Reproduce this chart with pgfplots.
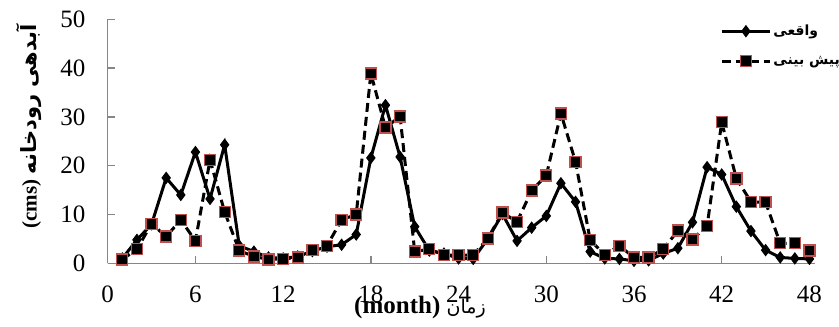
\documentclass[border=0pt]{standalone}
\usepackage{fontspec}
\setmainfont{Liberation Serif}
\newfontfamily\arabicfont[Script=Arabic]{DejaVu Sans}
\TeXXeTstate=1
\usepackage{pgfplots}
\pgfplotsset{compat=1.18}
\definecolor{axgray}{RGB}{134,134,134}
\definecolor{sqred}{RGB}{192,80,77}

\pgfplotstableread{
m act pre
1 1.0 0.8
2 4.8 2.9
3 8.0 8.1
4 17.5 5.5
5 14.0 8.9
6 22.8 4.6
7 13.2 21.2
8 24.3 10.5
9 3.6 2.6
10 2.4 1.4
11 1.2 0.8
12 1.0 0.9
13 1.4 1.2
14 2.5 2.7
15 3.4 3.6
16 3.8 8.9
17 5.9 10.0
18 21.6 38.9
19 32.4 27.8
20 21.8 30.1
21 7.5 2.4
22 2.6 2.9
23 2.0 1.7
24 1.0 1.7
25 0.9 1.7
26 5.0 5.1
27 10.1 10.4
28 4.6 8.5
29 7.3 14.9
30 9.7 18.0
31 16.4 30.7
32 12.6 20.8
33 2.4 4.8
34 1.0 1.7
35 0.9 3.6
36 0.5 1.2
37 0.6 1.2
38 2.0 2.9
39 3.1 6.7
40 8.4 4.9
41 19.7 7.7
42 18.2 28.9
43 11.6 17.4
44 6.6 12.6
45 2.7 12.5
46 1.2 4.1
47 1.0 4.1
48 0.9 2.6
}\datatable

\begin{document}
\begin{tikzpicture}
\begin{axis}[
  scale only axis, width=707.3bp, height=244bp,
  xmin=0, xmax=48.38, ymin=0, ymax=50,
  axis x line*=bottom, axis y line*=left,
  axis line style={axgray, line width=1.3bp},
  xtick={0,6,...,48}, ytick={0,10,...,50},
  tick align=inside, major tick length=7.5bp,
  tick style={axgray, line width=1.3bp},
  ticklabel style={font=\fontsize{25bp}{25bp}\selectfont, /pgf/number format/assume math mode=true},
  yticklabel style={inner sep=0pt, anchor=east, xshift=-22bp},
  xticklabel style={inner sep=0pt, anchor=north, yshift=-22bp},
  clip=false,
  xlabel={\fontsize{25bp}{25bp}\selectfont\bfseries (month) {\arabicfont\mdseries\fontsize{19bp}{19bp}\selectfont\beginR زمان\endR}},
  xlabel style={at={(axis description cs:0.4415,0)}, anchor=base, yshift=-50bp, inner sep=0pt},
  ylabel={\fontsize{21bp}{21bp}\selectfont\bfseries (cms) {\arabicfont\fontsize{21bp}{21bp}\selectfont\beginR آبدهی رودخانه\endR}},
  ylabel style={at={(axis description cs:-0.111,0.561)}, anchor=center, inner sep=0pt},
  legend style={draw=none, fill=none, at={(axis description cs:0.866,0.985)}, anchor=north west,
    font=\arabicfont\bfseries\fontsize{14bp}{14bp}\selectfont, row sep=15bp, inner sep=0pt},
  legend cell align=left,
  legend image code/.code={\draw[mark repeat=2, mark phase=2] plot coordinates {(0bp,0bp) (24bp,0bp) (48bp,0bp)};},
]
\addplot[black, line width=3bp, mark=diamond*, mark size=5.5bp, mark options={solid, fill=black, line width=1bp}] table[x=m, y=act] {\datatable};
\addlegendentry{\beginR واقعی\endR}
\addplot[black, line width=3bp, dash pattern=on 9bp off 5bp, mark=square*, mark size=5.5bp, mark options={solid, fill=black, draw=sqred, line width=1.3bp}] table[x=m, y=pre] {\datatable};
\addlegendentry{\beginR پیش بینی\endR}
\end{axis}
\pgfresetboundingbox
\useasboundingbox (-107.7bp,-63.7bp) rectangle (731.3bp,263.3bp);
\end{tikzpicture}
\end{document}
